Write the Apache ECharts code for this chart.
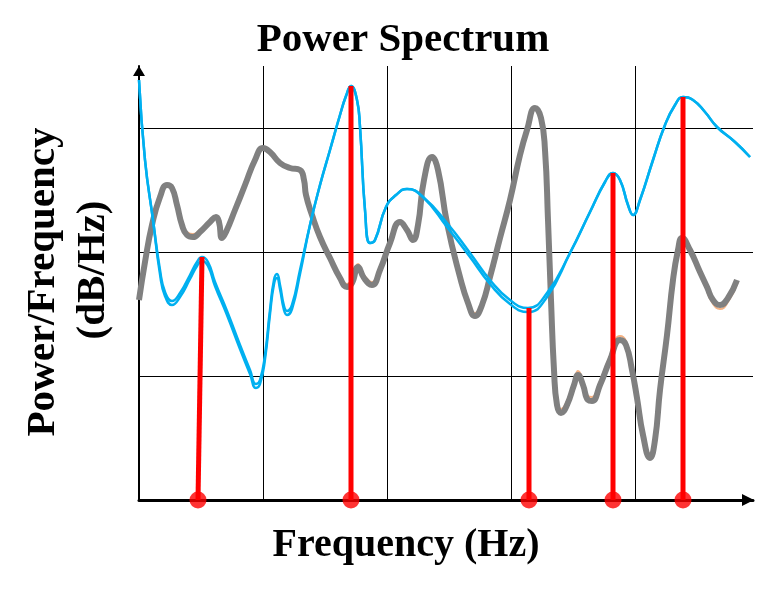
<!DOCTYPE html>
<html lang="en">
  <head>
    <meta charset="utf-8" />
    <title>Power Spectrum</title>
    <script src="https://cdn.jsdelivr.net/npm/echarts@6.0.0/dist/echarts.min.js"></script>
    <style>
      html, body { margin: 0; padding: 0; background: #fff; }
      #main { width: 768px; height: 594px; }
    </style>
  </head>
  <body>
    <div id="main"></div>
    <script type="text/javascript">
      // values (frequency / power, arbitrary units)
      var blueFreq = [0, 1.5, 3.5, 5.25, 6.5, 8.25, 10.25, 12.75, 14.5, 15.75, 17.25, 19, 22, 25.25, 27.75, 29.25, 30.25, 31.5, 32.75, 33.75, 34.5, 35.25, 36.25, 37, 38.25, 40.25, 42.75, 45.25, 47.75, 50.25, 51.75, 53, 54.5, 55.25, 56.5, 57.75, 59, 61.75, 64.25, 67, 71, 77, 82.75, 87.75, 92.75, 97.25, 102, 107.75, 112.75, 116.5, 118.5, 120.25, 122.25, 123.5, 125.25, 128.5, 131.5, 134, 136, 138.5, 141.5, 144.5, 149, 152.75];
      var bluePower = [105, 85, 70, 57.5, 52, 49.75, 51.75, 56.25, 59.5, 60.75, 59.5, 54.5, 47.25, 38.75, 32.5, 29, 30, 36.25, 47.5, 55, 56.5, 53.75, 48.5, 47.25, 48.75, 57.5, 68.75, 78.75, 87.5, 96.25, 101, 103.5, 100, 93.25, 72.5, 64.25, 65, 73.25, 76.25, 77.75, 75.75, 69.25, 61.75, 55, 50, 48, 51.75, 61.75, 72, 79.5, 81.75, 80, 73.75, 71.25, 75, 85, 93.75, 98.75, 100.75, 100, 97, 93.25, 89.5, 85.75];
      // second blue trace (shows as a double line in the valleys)
      var blue2Power = [105, 85, 70, 56.5, 51, 48.75, 50.75, 55.25, 58.5, 59.75, 58.5, 53.5, 46.25, 37.75, 31.5, 28, 29, 35.25, 46.5, 54, 55.5, 52.75, 47.5, 46.25, 47.75, 56.5, 68.75, 78.75, 87.5, 96.25, 101, 103.5, 100, 93.25, 72.5, 64.25, 65, 73.25, 76.25, 77.75, 75.75, 68.25, 60.75, 54, 49, 47, 50.75, 61.75, 72, 79.5, 81.75, 80, 73.75, 71.25, 75, 85, 93.75, 98.75, 100.75, 100, 97, 93.25, 89.5, 85.75];

      var grayFreq = [0, 1.5, 3.25, 5.25, 7, 8.25, 9.5, 10.75, 12, 13.5, 15.25, 17.75, 19.25, 20, 20.75, 21.75, 24, 26.5, 29, 31, 32.75, 35.25, 37.75, 40.25, 41.25, 41.75, 43.25, 45.25, 47.75, 50.25, 52, 53.25, 54.75, 56.25, 58.25, 60.25, 62.75, 65.25, 67, 68.5, 69.75, 71.25, 73.25, 74.75, 77, 80.25, 82.25, 84, 85.75, 87.75, 90.25, 92.75, 95.25, 97, 99, 100.5, 101.5, 102.25, 103, 103.75, 104.5, 105.5, 107, 108.75, 109.75, 111, 112.25, 113.25, 115.25, 117.75, 120.25, 121.75, 123.25, 124.5, 126, 127.75, 129, 130.25, 132, 133.5, 134.75, 135.75, 137.75, 140.25, 142, 143.5, 145.25, 147.25, 149.5];
      var grayPower = [50, 59.5, 68.75, 75.75, 78.75, 78, 73.75, 68.75, 66.25, 65.75, 67, 69.5, 70.75, 69.5, 65.5, 67, 72.5, 78.75, 85, 88, 87, 84.25, 83, 82.5, 80, 76.25, 71.25, 65.75, 60.5, 55.5, 53.25, 54.25, 58.25, 55.5, 53.75, 57.5, 64.25, 69.5, 67.5, 65, 68.75, 80, 85.75, 82.5, 69.25, 55.75, 49.25, 46, 48.75, 55.75, 65.5, 75, 86.25, 92.5, 98, 95.5, 87.5, 70, 50, 32.5, 23.75, 21.75, 23.75, 28.75, 31.25, 28.75, 25, 24.75, 28.75, 35, 40, 38.75, 32.5, 25.5, 16.25, 10.5, 15, 27.5, 41.25, 55, 62.5, 65.5, 62.5, 57, 53.25, 50, 48.75, 50.5, 55];

      // thin orange trace peeking out from under the gray one (null = gap)
      var orangeFreq = [12, 13.5, 15.25, null, 50.25, 52, 53.25, 54.75, 56.25, 58.25, 60.25, null, 82.25, 84, 85.75, null, 103.75, 104.5, 105.5, 107, 108.75, 109.75, 111, 112.25, 113.25, 115.25, 117.75, 120.25, 121.75, 123.25, 124.5, 126, 127.75, 129, 130.25, null, 142, 143.5, 145.25, 147.25, 149.75];
      var orangePower = [67, 66.5, 67.75, null, 56.25, 54, 55, 59, 56.25, 54.5, 58.25, null, 50, 46.75, 49.5, null, 33.5, 24.75, 22.75, 24.75, 29.75, 32.25, 29.75, 26, 25.75, 29.75, 36, 41, 39.75, 33.5, 26.5, 17.25, 11.5, 16, 28.5, null, 52.25, 49, 47.75, 49.5, 54.5];

      // red stems: base on the axis, top on the blue peaks
      var stemBaseFreq = [14.75, 53, 97.5, 118.5, 136];
      var stemTopFreq = [15.75, 53, 97.5, 118.5, 136];
      var stemPower = [60.75, 103.5, 48, 81.75, 100.75];

      function pairs(xs, ys) {
        return xs.map(function (x, i) { return [x, ys[i]]; });
      }

      function segments(xs, ys) {
        var out = [], cur = [];
        xs.forEach(function (x, i) {
          if (x === null) { out.push(cur); cur = []; }
          else cur.push([x, ys[i]]);
        });
        out.push(cur);
        return out;
      }

      var serif = '"Liberation Serif", "Times New Roman", serif';
      var chart = echarts.init(document.getElementById("main"));

      var series = [];
      segments(orangeFreq, orangePower).forEach(function (seg) {
        series.push({
          type: "line", data: seg, smooth: 0.5, symbol: "none", clip: false,
          lineStyle: { color: "#f4b183", width: 2 }, silent: true
        });
      });
      series.push({
        type: "line", data: pairs(grayFreq, grayPower), smooth: 0.5,
        symbol: "none", clip: false, lineStyle: { color: "#808080", width: 6 }
      });
      series.push({
        type: "line", data: pairs(blueFreq, blue2Power), smooth: 0.5,
        symbol: "none", clip: false, lineStyle: { color: "#00b0f0", width: 2.5 }
      });
      series.push({
        type: "line", data: pairs(blueFreq, bluePower), smooth: 0.5,
        symbol: "none", clip: false, lineStyle: { color: "#00b0f0", width: 2.5 }
      });
      stemBaseFreq.forEach(function (f, i) {
        series.push({
          type: "line", data: [[f, 0], [stemTopFreq[i], stemPower[i]]],
          symbol: "none", clip: false, lineStyle: { color: "#ff0000", width: 5 }
        });
      });
      series.push({
        type: "scatter", clip: false, symbolSize: 17,
        data: stemBaseFreq.map(function (f) { return [f, 0]; }),
        itemStyle: { color: "#ff0000" }
      });

      var option = {
        backgroundColor: "#fff",
        animation: false,
        grid: { left: 139, right: 15, top: 66, bottom: 94 },
        xAxis: {
          type: "value", min: 0, max: 153.5, interval: 31,
          axisLabel: { show: false }, axisTick: { show: false },
          axisLine: {
            lineStyle: { color: "#000", width: 3 },
            symbol: ["none", "triangle"], symbolSize: [12, 12], symbolOffset: [0, -5]
          },
          splitLine: { show: true, showMinLine: false, showMaxLine: false,
                       lineStyle: { color: "#000", width: 1 } }
        },
        yAxis: {
          type: "value", min: 0, max: 108.5, interval: 31, offset: 3,
          axisLabel: { show: false }, axisTick: { show: false },
          axisLine: {
            show: true,
            lineStyle: { color: "#000", width: 2 },
            symbol: ["none", "triangle"], symbolSize: [12, 10], symbolOffset: [0, -5]
          },
          splitLine: { show: true, showMinLine: false, showMaxLine: false,
                       lineStyle: { color: "#000", width: 1 } }
        },
        graphic: [
          { type: "text", x: 403, y: 40, style: { text: "Power Spectrum", fill: "#000",
            font: "bold 41px " + serif, align: "center", verticalAlign: "middle" } },
          { type: "text", x: 406, y: 546, style: { text: "Frequency (Hz)", fill: "#000",
            font: "bold 40px " + serif, align: "center", verticalAlign: "middle" } },
          { type: "text", x: 43, y: 282, rotation: Math.PI / 2, style: { text: "Power/Frequency", fill: "#000",
            font: "bold 41px " + serif, align: "center", verticalAlign: "middle" } },
          { type: "text", x: 93, y: 270, rotation: Math.PI / 2, style: { text: "(dB/Hz)", fill: "#000",
            font: "bold 41px " + serif, align: "center", verticalAlign: "middle" } }
        ],
        series: series
      };

      chart.setOption(option);
    </script>
  </body>
</html>
